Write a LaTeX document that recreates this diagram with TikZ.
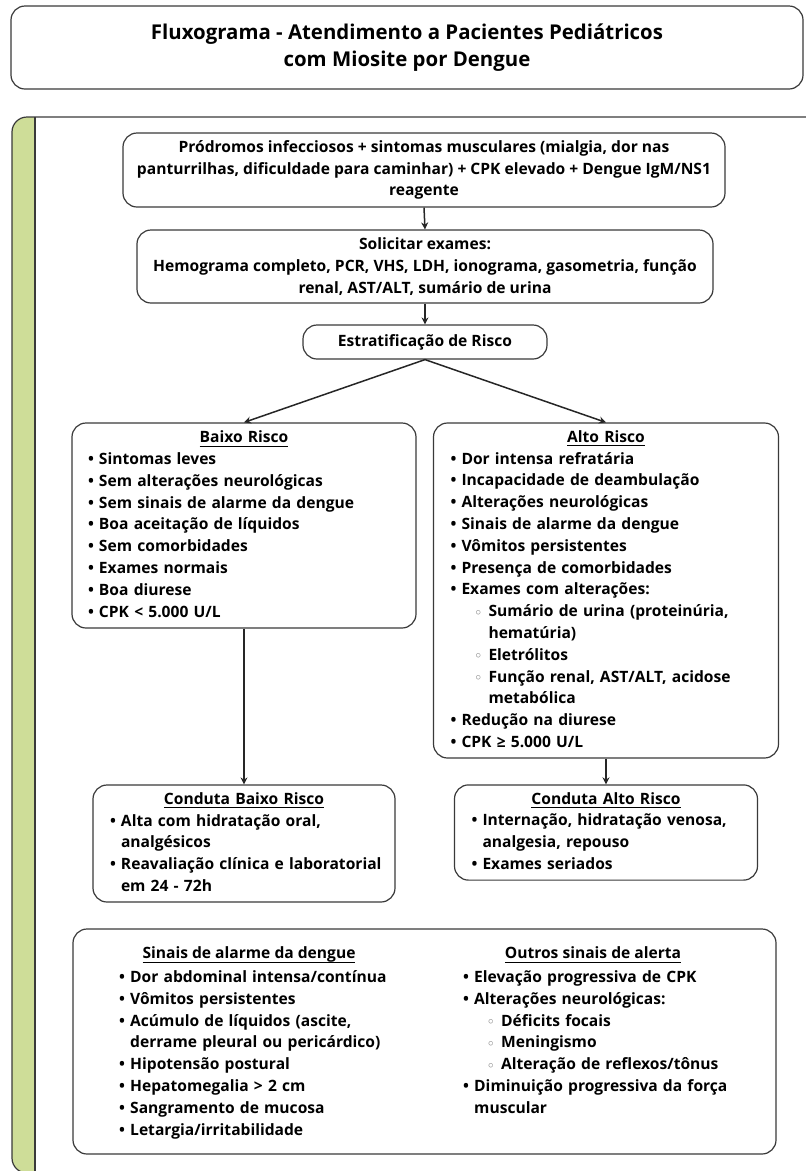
\documentclass[tikz,border=0pt]{standalone}
\usepackage{fontspec}
\setmainfont{Open Sans}
\usetikzlibrary{arrows.meta}
\definecolor{linha}{RGB}{58,58,58}
\definecolor{faixa}{RGB}{206,221,152}
\setlength{\parindent}{0pt}
\newcommand{\subl}[1]{\setbox0\hbox{#1}\rlap{\rule[-4pt]{\wd0}{1.1pt}}\box0}
\newcommand{\circulo}{\raisebox{1.5pt}{\fontsize{11}{11}\selectfont\textcolor{black!50}{$\circ$}}}
\newcommand{\itm}[1]{\strut\mbox{\makebox[11pt][l]{•}#1}}
\newcommand{\cnt}[1]{\strut\mbox{\hspace*{11pt}#1}}
\newcommand{\sitm}[1]{\strut\mbox{\hspace*{25pt}\makebox[13pt][l]{\circulo}#1}}
\newcommand{\scnt}[1]{\strut\mbox{\hspace*{38pt}#1}}
\newcommand{\tit}[1]{{\centering\strut\subl{#1}\par}}
\tikzset{
    caixa/.style={draw=linha, line width=1.2pt, rounded corners=14pt, fill=white,
        inner xsep=16pt, inner ysep=4pt, font=\fontsize{15.6}{21.8}\selectfont\bfseries},
    lista/.style={caixa, align=left},
    texto/.style={inner sep=0pt, align=left, font=\fontsize{15.6}{21.8}\selectfont\bfseries},
    seta/.style={draw=black!85, line width=1.5pt, -{Stealth[length=7pt, width=7pt]}}
}
\begin{document}
\begin{tikzpicture}[x=1pt, y=-1pt]
            \path[use as bounding box, clip] (0,0) rectangle (806,1171);
            \fill[faixa, rounded corners=15pt] (35,117) -- (12,117) -- (12,1173) -- (35,1173);
            \draw[linha, line width=1.2pt, rounded corners=15pt] (850,117) -- (12,117) -- (12,1173) -- (850,1173);
            \draw[linha, line width=1.2pt] (35,117) -- (35,1173);

            \node[caixa, minimum width=792pt, minimum height=83pt, align=center,
                font=\fontsize{20.4}{27}\selectfont\bfseries] (titulo) at (407,47.5)
                {Fluxograma - Atendimento a Pacientes Pediátricos\\com Miosite por Dengue};

            \node[caixa, align=center, inner xsep=4pt, minimum width=602pt, minimum height=74pt] (prodromos) at (424,170)
                {Pródromos infecciosos + sintomas musculares (mialgia, dor nas\\
                panturrilhas, dificuldade para caminhar) + CPK elevado + Dengue IgM/NS1\\
                reagente};
            \node[caixa, align=center, inner xsep=4pt, minimum width=576pt, minimum height=73pt] (exames) at (425,266.5)
                {Solicitar exames:\\
                Hemograma completo, PCR, VHS, LDH, ionograma, gasometria, função\\
                renal, AST/ALT, sumário de urina};
            \node[caixa, minimum width=244pt, minimum height=34pt] (estrat) at (425,342) {Estratificação de Risco};

            \node[lista, text width=312pt, minimum height=205pt] (baixo) at (244,525.5)
                {\tit{Baixo Risco}
                \itm{Sintomas leves}\\
                \itm{Sem alterações neurológicas}\\
                \itm{Sem sinais de alarme da dengue}\\
                \itm{Boa aceitação de líquidos}\\
                \itm{Sem comorbidades}\\
                \itm{Exames normais}\\
                \itm{Boa diurese}\\
                \itm{CPK < 5.000 U/L}};
            \node[lista, inner xsep=17pt, text width=311pt, minimum height=335pt] (alto) at (606,590.5)
                {\tit{Alto Risco}
                \itm{Dor intensa refratária}\\
                \itm{Incapacidade de deambulação}\\
                \itm{Alterações neurológicas}\\
                \itm{Sinais de alarme da dengue}\\
                \itm{Vômitos persistentes}\\
                \itm{Presença de comorbidades}\\
                \itm{Exames com alterações:}\\
                \sitm{Sumário de urina (proteinúria,}\\
                \scnt{hematúria)}\\
                \sitm{Eletrólitos}\\
                \sitm{Função renal, AST/ALT, acidose}\\
                \scnt{metabólica}\\
                \itm{Redução na diurese}\\
                \itm{CPK ≥ 5.000 U/L}};

            \node[lista, inner xsep=17pt, text width=268pt, minimum height=117pt] (cbaixo) at (244,843.5)
                {\tit{Conduta Baixo Risco}
                \itm{Alta com hidratação oral,}\\
                \cnt{analgésicos}\\
                \itm{Reavaliação clínica e laboratorial}\\
                \cnt{em 24 - 72h}};
            \node[lista, inner xsep=17pt, text width=269pt, minimum height=95pt] (calto) at (606,832.5)
                {\tit{Conduta Alto Risco}
                \itm{Internação, hidratação venosa,}\\
                \cnt{analgesia, repouso}\\
                \itm{Exames seriados}};

            \node[caixa, minimum width=703pt, minimum height=225pt] (sinais) at (424.5,1041.5) {};
            \node[texto] (talarme) at (249,955) {\subl{Sinais de alarme da dengue}};
            \node[texto] (toutros) at (593,955) {\subl{Outros sinais de alerta}};
            \node[texto, text width=280pt, anchor=north west] (alarme) at (119,967)
                {\itm{Dor abdominal intensa/contínua}\\
                \itm{Vômitos persistentes}\\
                \itm{Acúmulo de líquidos (ascite,}\\
                \cnt{derrame pleural ou pericárdico)}\\
                \itm{Hipotensão postural}\\
                \itm{Hepatomegalia > 2 cm}\\
                \itm{Sangramento de mucosa}\\
                \itm{Letargia/irritabilidade}};
            \node[texto, text width=290pt, anchor=north west] (outros) at (463,967)
                {\itm{Elevação progressiva de CPK}\\
                \itm{Alterações neurológicas:}\\
                \sitm{Déficits focais}\\
                \sitm{Meningismo}\\
                \sitm{Alteração de reflexos/tônus}\\
                \itm{Diminuição progressiva da força}\\
                \cnt{muscular}};

            \draw[seta] (prodromos.south) -- (exames.north);
            \draw[seta] (exames.south) -- (estrat.north);
            \draw[seta] (estrat.south) -- (baixo.north);
            \draw[seta] (estrat.south) -- (alto.north);
            \draw[seta] (baixo.south) -- (cbaixo.north);
            \draw[seta] (alto.south) -- (calto.north);
\end{tikzpicture}
\end{document}
